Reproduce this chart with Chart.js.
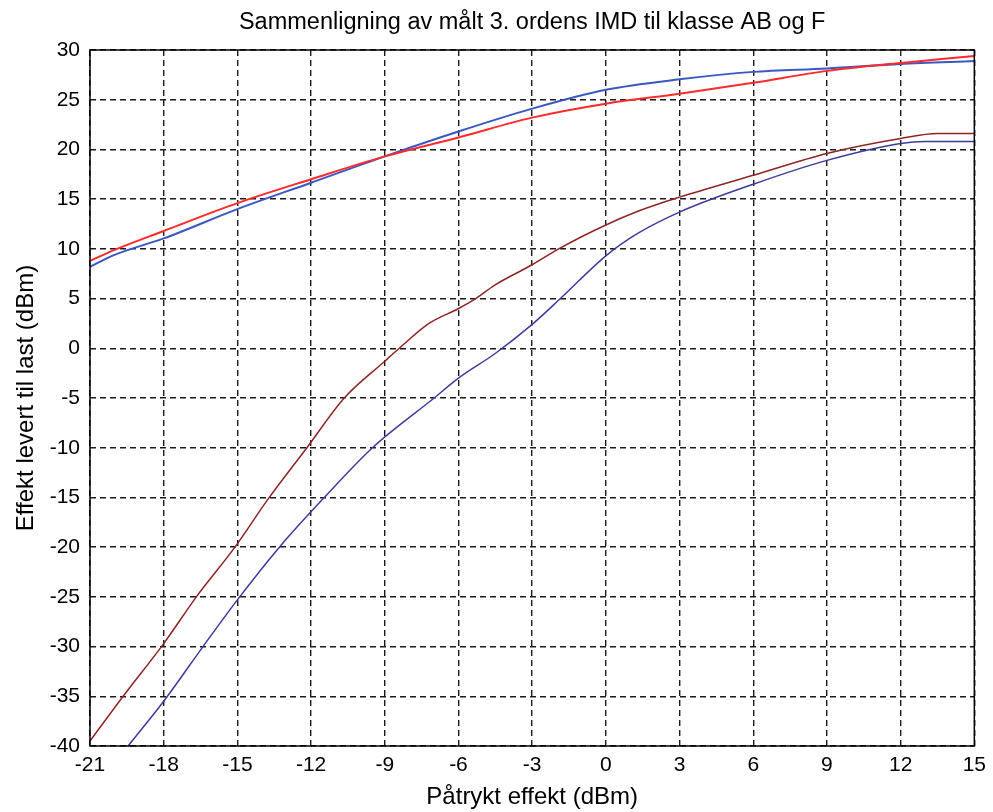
<!DOCTYPE html>
<html>
<head>
<meta charset="utf-8">
<title>Sammenligning av målt 3. ordens IMD</title>
<script src="https://cdn.jsdelivr.net/npm/chart.js@4.4.1/dist/chart.umd.min.js"></script>
<style>
  body { margin: 0; background: #fff; }
  canvas { display: block; }
</style>
</head>
<body>
<canvas id="imdChart" width="993" height="812"></canvas>
<script>
// axis ticks
const xMin = -21, xMax = 15, xStep = 3;
const yMin = -40, yMax = 30, yStep = 5;

// upper red curve
const xRodOvre = [-21, -20, -18, -15, -12, -9, -6, -3, 0, 3, 6, 9, 12, 15];
const yRodOvre = [8.8, 9.9, 11.8, 14.6, 17.0, 19.3, 21.2, 23.2, 24.6, 25.6, 26.7, 27.9, 28.7, 29.4];

// upper blue curve
const xBlaOvre = [-21, -20, -18, -15, -12, -9, -6, -3, 0, 3, 6, 9, 12, 15];
const yBlaOvre = [8.2, 9.4, 11.05, 14.0, 16.65, 19.3, 21.8, 24.1, 26.0, 27.05, 27.8, 28.15, 28.6, 28.9];

// lower dark red curve
const xRodNedre = [-21, -19.65, -18, -16.67, -15.1, -13.76, -12.17, -10.65, -9, -8.41, -7.2, -6, -5.3, -4.49, -3, -1.92, 0, 1.33, 3, 6, 9, 12, 13.5, 15];
const yRodNedre = [-39.5, -35, -29.7, -25, -20, -15.2, -10, -5, -1.3, 0, 2.5, 4.0, 5.0, 6.4, 8.4, 10.0, 12.4, 13.8, 15.2, 17.4, 19.6, 21.1, 21.6, 21.6];

// lower dark blue curve
const xBlaNedre = [-19.45, -18, -16.4, -15, -13.29, -11.46, -9.5, -6.99, -6, -4.49, -3, -1.85, 0, 1.33, 3, 6, 9, 12, 13, 15];
const yBlaNedre = [-40, -35.5, -30, -25.3, -20, -15, -10, -5, -3.0, -0.5, 2.4, 5.0, 9.3, 11.6, 13.7, 16.5, 18.9, 20.6, 20.8, 20.8];

const punkter = (xs, ys) => xs.map((x, i) => ({ x: x, y: ys[i] }));

const fontFam = "'Liberation Sans', Arial, sans-serif";

// solid box round the plot area, like a matlab axes
const rammePlugin = {
  id: 'ramme',
  afterDraw(chart) {
    const a = chart.chartArea;
    const ctx = chart.ctx;
    ctx.save();
    ctx.setLineDash([]);
    ctx.strokeStyle = '#000';
    ctx.lineWidth = 1.5;
    ctx.strokeRect(a.left, a.top, a.right - a.left, a.bottom - a.top);
    ctx.restore();
  }
};

function linje(xs, ys, farge, bredde) {
  return {
    data: punkter(xs, ys),
    borderColor: farge,
    borderWidth: bredde,
    pointRadius: 0,
    fill: false,
    cubicInterpolationMode: 'monotone'
  };
}

const ctx = document.getElementById('imdChart').getContext('2d');
new Chart(ctx, {
  type: 'line',
  data: {
    datasets: [
      linje(xRodOvre, yRodOvre, '#ff2a2a', 2),
      linje(xBlaOvre, yBlaOvre, '#3a58c4', 2),
      linje(xRodNedre, yRodNedre, '#8e2424', 1.5),
      linje(xBlaNedre, yBlaNedre, '#3b3b9c', 1.5)
    ]
  },
  options: {
    responsive: false,
    animation: false,
    layout: { padding: { left: 0, right: 14, top: 0, bottom: 0 } },
    plugins: {
      legend: { display: false },
      tooltip: { enabled: false },
      title: { display: false }
    },
    scales: {
      x: {
        type: 'linear',
        min: xMin,
        max: xMax,
        afterFit: s => { s.height = 66; },
        ticks: {
          stepSize: xStep,
          color: '#000',
          padding: 7,
          maxRotation: 0,
          font: { family: fontFam, size: 21 }
        },
        grid: { color: '#1a1a1a', lineWidth: 1.4, drawTicks: false },
        border: { display: false, dash: [6, 4] },
        title: {
          display: true,
          text: 'Påtrykt effekt (dBm)',
          color: '#000',
          font: { family: fontFam, size: 24 },
          padding: { top: 0, bottom: 0 }
        }
      },
      // top axis only carries the chart title, centred over the plot
      tittel: {
        type: 'linear',
        position: 'top',
        min: xMin,
        max: xMax,
        afterFit: s => { s.height = 50; },
        ticks: { display: false },
        grid: { display: false },
        border: { display: false },
        title: {
          display: true,
          text: 'Sammenligning av målt 3. ordens IMD til klasse AB og F',
          color: '#000',
          font: { family: fontFam, size: 23.5 },
          padding: { top: 8, bottom: 0 }
        }
      },
      y: {
        type: 'linear',
        min: yMin,
        max: yMax,
        afterFit: s => { s.width = 90; },
        ticks: {
          stepSize: yStep,
          color: '#000',
          padding: 10,
          font: { family: fontFam, size: 21 }
        },
        grid: { color: '#1a1a1a', lineWidth: 1.4, drawTicks: false },
        border: { display: false, dash: [6, 4] },
        title: {
          display: true,
          text: 'Effekt levert til last (dBm)',
          color: '#000',
          font: { family: fontFam, size: 24 },
          padding: { top: 12, bottom: 0 }
        }
      }
    }
  },
  plugins: [rammePlugin]
});
</script>
</body>
</html>
